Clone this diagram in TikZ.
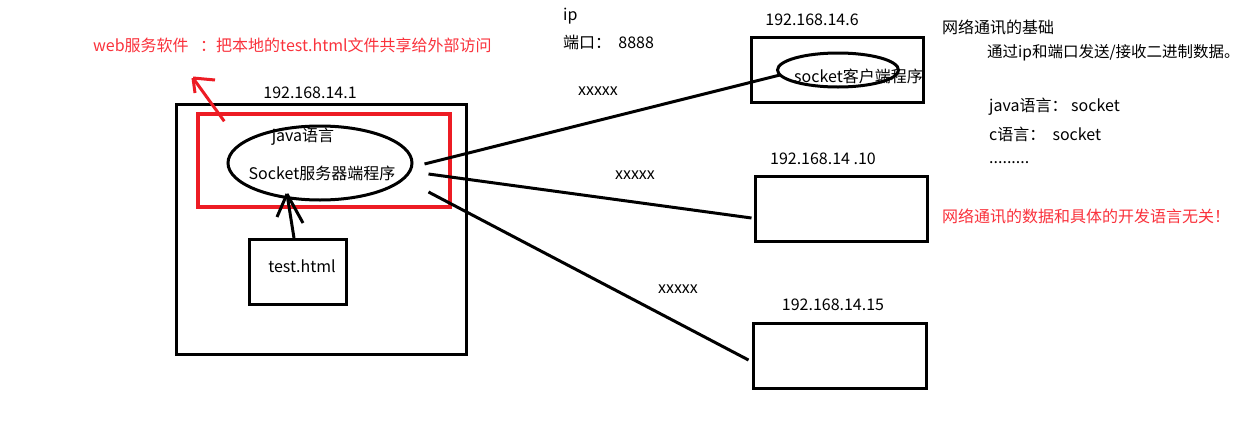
\documentclass[tikz,border=0pt]{standalone}
\usepackage{fontspec}
\setmainfont{Noto Sans CJK SC}
\usetikzlibrary{shapes.geometric}
\definecolor{pred}{RGB}{237,28,36}
\definecolor{tred}{RGB}{250,50,60}
\tikzset{
  blk/.style={draw=black, line width=3pt},
  box/.style={blk, rectangle, inner sep=0pt},
  oval/.style={blk, ellipse, inner sep=0pt},
  conn/.style={black, line width=3pt},
  txt/.style={inner sep=0pt, font=\fontsize{16}{19}\selectfont, text=black},
  rtxt/.style={txt, text=tred},
}
\begin{document}
\begin{tikzpicture}[x=1pt,y=-1pt]
\useasboundingbox[fill=white] (0,0) rectangle (1239,442);

% server side
\node[box, minimum width=290pt, minimum height=250pt] (host) at (321,229) {};
\node[txt] (hostip) at (310,93) {192.168.14.1};
\node[draw=pred, line width=3.5pt, rectangle, inner sep=0pt, minimum width=252pt, minimum height=93pt] (web) at (324,160.5) {};
\node[oval, minimum width=184pt, minimum height=74pt] (srv) at (320,163) {};
\node[txt] (java) at (303,137) {java语言};
\node[txt] (srvtxt) at (322,173) {Socket服务器端程序};
\node[box, minimum width=97pt, minimum height=65pt] (test) at (298,272) {};
\node[txt] (testtxt) at (302,266) {test.html};

% arrow test.html -> server
\coordinate (tip) at (287,194);
\draw[conn] ([xshift=-4pt]test.north) -- (tip);
\draw[conn] (tip) -- ++(-10,23);
\draw[conn] (tip) -- ++(16,29);

% red arrow and web text
\coordinate (wtip) at (193,78);
\draw[pred, line width=3pt] ([xshift=28pt,yshift=-9pt]web.north west) -- (wtip);
\draw[pred, line width=3pt] (wtip) -- ++(2,15);
\draw[pred, line width=3pt] (wtip) -- ++(22,2);
\node[rtxt, anchor=west] (websw) at (93,45) {web服务软件};
\node[rtxt, anchor=west] (webdesc) at (200,45) {：把本地的test.html文件共享给外部访问};

% ip / port
\node[txt, anchor=west] (iplbl) at (563,16) {ip};
\node[txt, anchor=west] (portlbl) at (563,42) {端口：\ \ 8888};

% clients
\node[box, minimum width=172pt, minimum height=65pt] (c6) at (837,69.5) {};
\node[txt] (c6ip) at (812,20) {192.168.14.6};
\node[oval, minimum width=121pt, minimum height=34pt] (cli) at (838,70) {};
\node[txt, anchor=west] (clitxt) at (794,76) {socket客户端程序};

\node[box, minimum width=172pt, minimum height=65pt] (c10) at (841,208.5) {};
\node[txt] (c10ip) at (823,159) {192.168.14 .10};

\node[box, minimum width=173pt, minimum height=65pt] (c15) at (839.5,355.5) {};
\node[txt] (c15ip) at (833,305) {192.168.14.15};

% connectors
\draw[conn] ([xshift=11pt,yshift=-1pt]srv.east) -- ([xshift=4pt,yshift=-5pt]cli.west);
\draw[conn] ([xshift=15pt,yshift=-11pt]srv.east) -- ([xshift=-2pt,yshift=-9.5pt]c10.west);
\draw[conn] ([xshift=15pt,yshift=-29pt]srv.east) -- ([xshift=-3pt,yshift=-4.5pt]c15.west);

\node[txt] (x1) at (598,91) {xxxxx};
\node[txt] (x2) at (635,175) {xxxxx};
\node[txt] (x3) at (678,289) {xxxxx};

% notes
\node[txt, anchor=west] (n1) at (942,27) {网络通讯的基础};
\node[txt, anchor=west, font=\fontsize{15.5}{18}\selectfont] (n2) at (987,53) {通过ip和端口发送/接收二进制数据。};
\node[txt, anchor=west] (n3) at (989,107) {java语言：\ socket};
\node[txt, anchor=west] (n4) at (989,134) {c语言：\ \ socket};
\node[txt, anchor=west] (n5) at (989,163) {.........};
\node[rtxt, anchor=west] (n6) at (942,216) {网络通讯的数据和具体的开发语言无关！};
\end{tikzpicture}
\end{document}
